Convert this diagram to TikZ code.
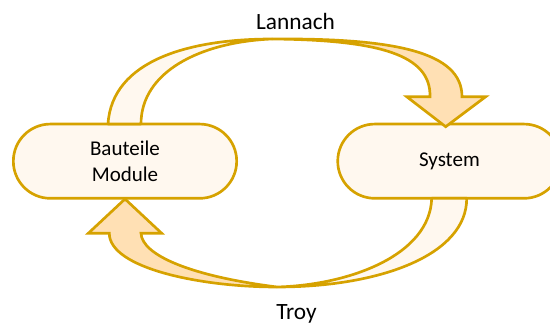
\documentclass[tikz,border=0pt]{standalone}
\usepackage{fontspec}
\setmainfont{Carlito}
\definecolor{gold}{RGB}{214,162,0}
\definecolor{cream}{RGB}{255,248,239}
\definecolor{peach}{RGB}{255,224,180}
\begin{document}
\begin{tikzpicture}[x=0.75pt,y=-0.75pt,line width=2pt,
  pill/.style={draw=gold,fill=cream,rounded corners=27.8pt,
    minimum width=167.5pt,minimum height=55.7pt,inner sep=0pt,
    align=center,font=\fontsize{15.75}{19.5}\selectfont},
  band/.style={draw=gold,fill=cream,line join=round},
  headband/.style={draw=gold,fill=peach,line join=miter},
  lbl/.style={font=\fontsize{17.5}{21}\selectfont,anchor=base,inner sep=0pt}]
\useasboundingbox (0,0) rectangle (550,323);

% the two stations
\node[pill] (bm)  at (125,161.2)   {Bauteile\\Module};
\node[pill] (sys) at (449.4,161.2) {System};

% upper curved arrow: tail band rising from the left box
\draw[band] (108,124) .. controls (112,60) and (190,39) .. (272,39)
  .. controls (200,42) and (141,72) .. (141,124) -- cycle;
% upper curved arrow: descending band and head onto the right box
\draw[headband] (272,39) .. controls (395,38) and (462,52) .. (462,96.7)
  -- (485.7,96.7) -- (445.7,126.7) -- (406.7,96.7) -- (430,96.7)
  .. controls (431,55) and (380,40) .. (272,39) -- cycle;

% lower curved arrow: tail band leaving the right box
\draw[band] (466.7,198.3) .. controls (467,255) and (380,287) .. (277,287)
  .. controls (350,285) and (430,255) .. (431.7,198.3) -- cycle;
% lower curved arrow: rising band and head onto the left box
\draw[headband] (277,287) .. controls (200,287) and (109.3,268) .. (109.3,233.3)
  -- (88.3,233.3) -- (125,199) -- (161.7,233.3) -- (141,233.3)
  .. controls (142,255) and (190,276) .. (277,287) -- cycle;

% labels of the two loops
\node[lbl] (lan)  at (295.5,29.3)  {Lannach};
\node[lbl] (troy) at (296.5,319.3) {Troy};
\end{tikzpicture}
\end{document}
